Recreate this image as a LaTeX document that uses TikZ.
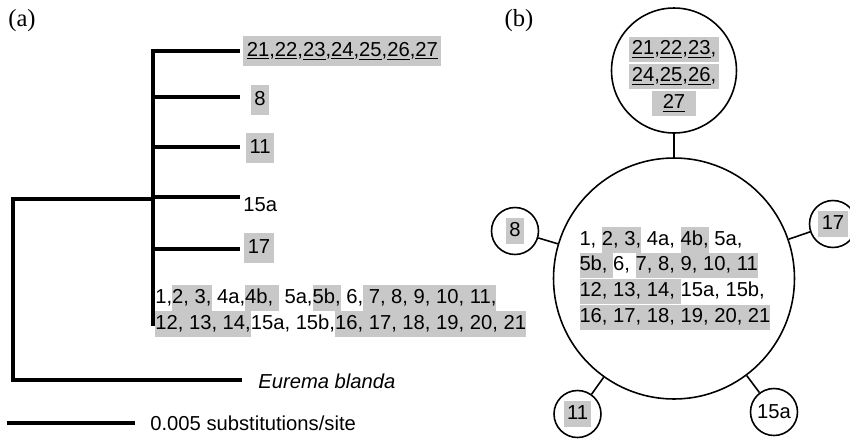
\documentclass[tikz,border=0pt]{standalone}
\usepackage{fontspec}
\setmainfont{Liberation Sans}
\newfontfamily\capfont{Liberation Serif}
\usetikzlibrary{calc}
\definecolor{hlgrey}{RGB}{200,200,200}
\newcommand{\hl}[1]{{\setlength{\fboxsep}{0pt}\colorbox{hlgrey}{\rule[-4.2pt]{0pt}{14.5pt}#1}}}
\newcommand{\ul}[1]{\underline{#1}}
\tikzset{
    branch/.style={line width=1.8pt},
    hap/.style={circle, draw=black, line width=0.9pt, inner sep=0pt},
    link/.style={line width=0.9pt},
    tag/.style={fill=hlgrey, inner xsep=2pt, inner ysep=1.5pt, text height=10.3pt, text depth=4.2pt},
    row/.style={inner sep=0pt, anchor=west},
}

\begin{document}
\begin{tikzpicture}[x=0.02cm, y=-0.02cm, font=\fontsize{11.5}{14.7}\selectfont]

    \useasboundingbox (0,0) rectangle (850,440);

    \node[font=\capfont\fontsize{14}{16}\selectfont] (pa) at (22,21) {(a)};
    \node[font=\capfont\fontsize{14}{16}\selectfont] (pb) at (519,21) {(b)};

    % tree
    \coordinate (root) at (13,199);
    \coordinate (crown) at (153,199);
    \coordinate (spine) at (153,326);
    \coordinate (b21) at (240,51);
    \coordinate (b8) at (240,97);
    \coordinate (b11) at (240,147);
    \coordinate (b15a) at (240,197);
    \coordinate (b17) at (240,249);
    \coordinate (beb) at (242,380);

    \draw[branch] (spine) |- (b21);
    \draw[branch] ($(b8)-(87,0)$) -- (b8);
    \draw[branch] ($(b11)-(87,0)$) -- (b11);
    \draw[branch] ($(b15a)-(87,0)$) -- (b15a);
    \draw[branch] ($(b17)-(87,0)$) -- (b17);
    \draw[branch] (crown) -- (root) |- (beb);

    \node[tag, anchor=west] (t21) at ($(b21)+(3,0)$) {\ul{21},\ul{22},\ul{23},\ul{24},\ul{25},\ul{26},\ul{27}};
    \node[tag] (t8) at ($(b8)+(20,3)$) {8};
    \node[tag] (t11) at ($(b11)+(20,1)$) {11};
    \node[inner sep=0pt, anchor=west] (t15a) at ($(b15a)+(3,8)$) {15a};
    \node[tag] (t17) at ($(b17)+(19,-1)$) {17};

    \node[row] (r1) at (155,298) {1,\hl{2, 3,} 4a,\hl{4b, } 5a,\hl{5b,} 6,\hl{ 7, 8, 9, 10, 11,}};
    \node[row] (r2) at (155,324) {\hl{12, 13, 14,}15a, 15b,\hl{16, 17, 18, 19, 20, 21}};

    \node[inner sep=0pt, anchor=west] (eb) at ($(beb)+(16,1)$) {\itshape Eurema blanda};

    % scale bar
    \coordinate (s0) at (7,423);
    \coordinate (s1) at (135,423);
    \draw[branch] (s0) -- (s1);
    \node[inner sep=0pt, anchor=west] (scale) at ($(s1)+(15,0)$) {0.005 substitutions/site};

    % network
    \node[hap, minimum size=4.82cm] (main) at (674,278.5) {};
    \node[hap, minimum size=2.5cm] (h21) at (674,70.5) {};
    \node[hap, minimum size=0.94cm] (h8) at (515,231) {\hl{\,8\,}};
    \node[hap, minimum size=0.94cm] (h17) at (833,224) {\hl{\,17\,}};
    \node[hap, minimum size=0.94cm] (h11) at (577.5,414) {\hl{\,11\,}};
    \node[hap, minimum size=0.94cm] (h15a) at (774,412) {15a};

    \node[align=center, inner sep=0pt, font=\fontsize{11.5}{15.3}\selectfont] (c21) at ($(h21)+(0,6)$) {\hl{\hspace{1.5pt}\ul{21},\ul{22},\ul{23},\hspace{1.5pt}}\\
        \hl{\hspace{1.5pt}\ul{24},\ul{25},\ul{26},\hspace{1.5pt}}\\
        \hl{\hspace{6pt}\ul{27}\hspace{6pt}}};
    \node[align=left, inner sep=0pt] (cmain) at ($(main)+(1,0)$) {1, \hl{2, 3,} 4a, \hl{4b,} 5a,\\
        \hl{5b, }6, \hl{7, 8, 9, 10, 11}\\
        \hl{12, 13, 14, }15a, 15b,\\
        \hl{16, 17, 18, 19, 20, 21}};

    \draw[link] (h21) -- (main);
    \draw[link] (h8) -- (main);
    \draw[link] (h17) -- (main);
    \draw[link] (h11) -- (main);
    \draw[link] (h15a) -- (main);

\end{tikzpicture}
\end{document}
